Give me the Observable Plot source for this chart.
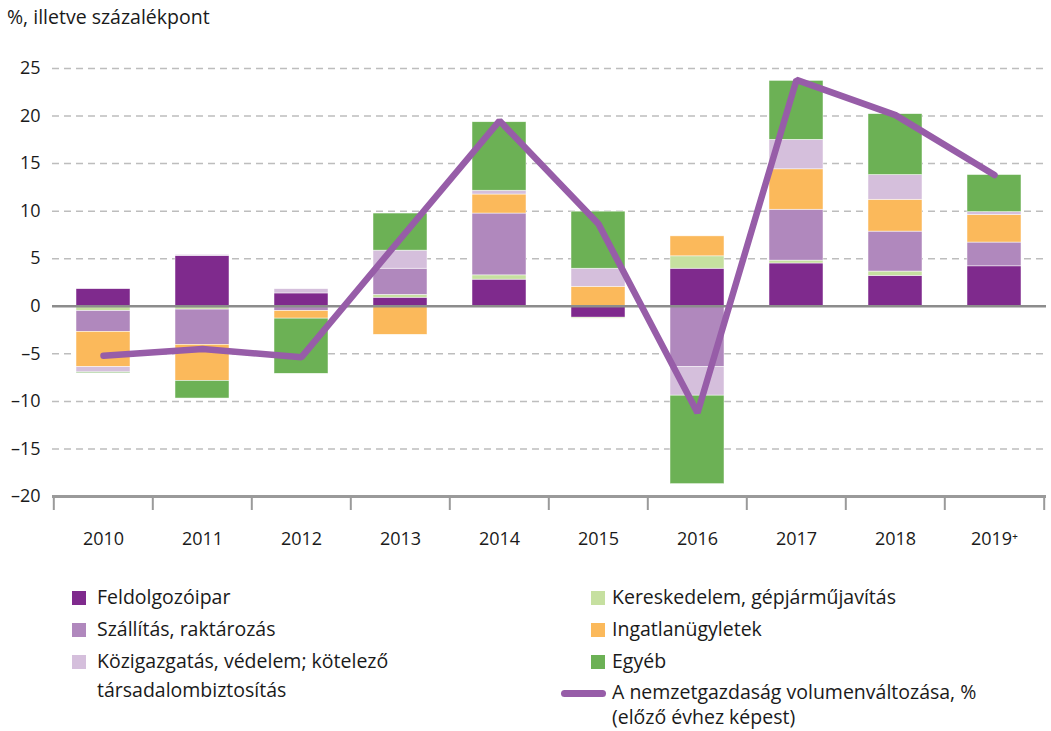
<!DOCTYPE html>
<html><head><meta charset="utf-8">
<script src="https://cdn.jsdelivr.net/npm/d3@7"></script>
<script src="https://cdn.jsdelivr.net/npm/@observablehq/plot@0.6"></script>
<style>
body{margin:0;background:#fff;font-family:"Open Sans",sans-serif;color:#1a1a1a;}
#wrap{position:relative;width:1051px;height:731px;overflow:hidden;}
#chart{position:absolute;left:0;top:0;}
.t{position:absolute;font-size:19.5px;line-height:24px;white-space:nowrap;color:#1a1a1a;}
.sw{position:absolute;width:14px;height:14px;}
.ln{position:absolute;height:7px;border-radius:4px;}
</style></head><body>
<div id="wrap">
<div id="chart"></div>
<div class="t" style="left:7px;top:5px;">%, illetve százalékpont</div>
<div id="legend"></div>
</div>
<script>
const years = ["2010","2011","2012","2013","2014","2015","2016","2017","2018","2019"];
const yearLabels = ["2010","2011","2012","2013","2014","2015","2016","2017","2018","2019⁺"];
const seriesNames = ["Feldolgozóipar","Kereskedelem, gépjárműjavítás","Szállítás, raktározás","Ingatlanügyletek","Közigazgatás, védelem; kötelező társadalombiztosítás","Egyéb"];
const seriesColors = ["#7f2a8d","#c6e0a0","#b088bd","#fbb95b","#d5bfdc","#6cb155"];
const feldolgozoipar = [1.8, 5.3, 1.35, 0.9, 2.8, -1.2, 3.95, 4.5, 3.2, 4.2];
const kereskedelem   = [-0.5, -0.35, -0.1, 0.3, 0.45, -0.1, 1.3, 0.3, 0.45, 0];
const szallitas      = [-2.2, -3.7, -0.4, 2.75, 6.5, 0, -6.4, 5.35, 4.2, 2.5];
const ingatlan       = [-3.7, -3.8, -0.8, -3.0, 2.0, 2.05, 2.1, 4.25, 3.35, 2.9];
const kozigazgatas   = [-0.55, 0.1, 0.45, 1.9, 0.4, 1.9, -3.0, 3.1, 2.6, 0.3];
const egyeb          = [-0.1, -1.85, -5.8, 3.9, 7.2, 6.0, -9.3, 6.2, 6.4, 3.9];
const nemzetgazdasag = [-5.2, -4.5, -5.35, 7.1, 19.5, 8.65, -11.2, 23.8, 20.1, 13.8];
const yTicks = [-20,-15,-10,-5,0,5,10,15,20,25];
const lineName = "A nemzetgazdaság volumenváltozása, %";
const lineName2 = "(előző évhez képest)";

const seriesValues = [feldolgozoipar, kereskedelem, szallitas, ingatlan, kozigazgatas, egyeb];
const barData = [];
seriesNames.forEach((s, k) => years.forEach((y, i) => barData.push({year: y, series: s, value: seriesValues[k][i]})));
const lineData = years.map((y, i) => ({year: y, value: nemzetgazdasag[i]}));

const W = 1051, H = 560, mL = 52, mR = 5, mT = 68, mB = 64;
const step = (W - mL - mR) / years.length;
const labelOf = Object.fromEntries(years.map((y, i) => [y, yearLabels[i]]));

const chart = Plot.plot({
  width: W, height: H,
  marginLeft: mL, marginRight: mR, marginTop: mT, marginBottom: mB,
  style: {fontFamily: "'Open Sans', sans-serif", fontSize: "18px", color: "#1a1a1a", background: "transparent"},
  x: {type: "band", domain: years, paddingInner: 0.45, paddingOuter: 0.225, label: null},
  y: {domain: [-20, 25], label: null},
  color: {domain: seriesNames, range: seriesColors},
  marks: [
    Plot.ruleY(yTicks.filter(d => d !== 0 && d !== -20), {stroke: "#bdbdbd", strokeWidth: 1.5, strokeDasharray: "7,5"}),
    Plot.barY(barData, {x: "year", y: "value", fill: "series", order: seriesNames, stroke: "#ffffff", strokeWidth: 0.6, strokeOpacity: 0.8}),
    Plot.ruleY([0], {stroke: "#8c8c8c", strokeWidth: 2.5}),
    Plot.ruleY([-20], {stroke: "#9a9a9a", strokeWidth: 3}),
    Plot.ruleX(years, {x: d => d, y1: -20, y2: -20, insetBottom: -14, dx: -step / 2, stroke: "#9a9a9a", strokeWidth: 2}),
    Plot.ruleX(years.slice(-1), {x: d => d, y1: -20, y2: -20, insetBottom: -14, dx: step / 2, stroke: "#9a9a9a", strokeWidth: 2}),
    Plot.line(lineData, {x: "year", y: "value", stroke: "#975da8", strokeWidth: 6.5, strokeLinecap: "round", strokeLinejoin: "miter"}),
    Plot.axisY({ticks: yTicks, tickSize: 0, tickPadding: 12, label: null, tickFormat: d => d < 0 ? "–" + (-d) : String(d)}),
    Plot.axisX({tickSize: 0, tickPadding: 36, label: null, tickFormat: d => labelOf[d]})
  ]
});
document.getElementById("chart").appendChild(chart);

// Legend
const legend = document.getElementById("legend");
const leftItems = [[0, 598], [2, 630], [4, 662]];
const rightItems = [[1, 598], [3, 630], [5, 662]];
function addSw(x, y, color) {
  const d = document.createElement("div"); d.className = "sw";
  d.style.left = x + "px"; d.style.top = (y - 7) + "px"; d.style.background = color;
  legend.appendChild(d);
}
function addText(x, y, text) {
  const d = document.createElement("div"); d.className = "t";
  d.style.left = x + "px"; d.style.top = (y - 13) + "px"; d.textContent = text;
  legend.appendChild(d);
}
const kozParts = ["Közigazgatás, védelem; kötelező", "társadalombiztosítás"];
leftItems.forEach(([k, y]) => {
  addSw(72, y, seriesColors[k]);
  if (k === 4) { addText(97, y, kozParts[0]); addText(97, y + 29, kozParts[1]); }
  else addText(97, y, seriesNames[k]);
});
rightItems.forEach(([k, y]) => { addSw(591, y, seriesColors[k]); addText(612, y, seriesNames[k]); });
const ln = document.createElement("div"); ln.className = "ln";
ln.style.left = "561px"; ln.style.top = (693 - 3.5) + "px"; ln.style.width = "45px"; ln.style.background = "#975da8";
legend.appendChild(ln);
addText(612, 693, lineName);
addText(612, 718, lineName2);
</script>
</body></html>
